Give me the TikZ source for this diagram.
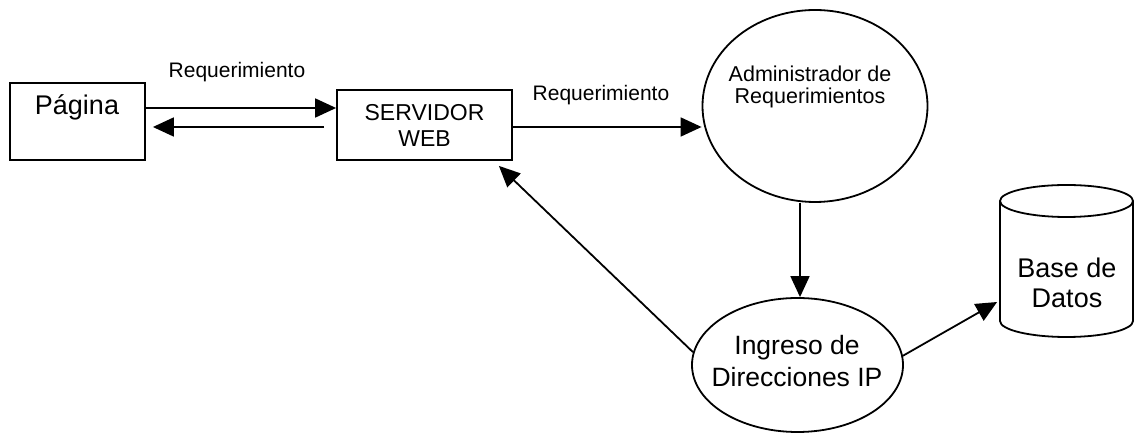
\documentclass[tikz,border=0pt]{standalone}
\usepackage{fontspec}
\setmainfont{Liberation Sans}
\usetikzlibrary{arrows.meta,shapes.geometric}
\begin{document}
\begin{tikzpicture}[x=1pt,y=1pt,
  line width=1.8pt,
  arr/.style={-{Triangle[length=21pt,width=19pt]}},
  boxnode/.style={draw, rectangle, inner sep=0pt},
  ellnode/.style={draw, ellipse, inner sep=0pt},
  txt/.style={align=center, inner sep=0pt}]
\useasboundingbox (0,0) rectangle (1141,433);
% boxes
\node[boxnode, minimum width=135, minimum height=77] (pagina) at (77.5,311.5) {};
\node[txt, font=\fontsize{27}{30}\selectfont] (paginatxt) at (77,326) {Página};
\node[boxnode, minimum width=175, minimum height=70, font=\fontsize{23}{26}\selectfont, align=center] (servidor) at (424.5,308) {SERVIDOR\\WEB};
% ellipses
\node[ellnode, minimum width=225, minimum height=192] (admin) at (815,327) {};
\node[txt, font=\fontsize{21.5}{22}\selectfont] (admintxt) at (810,346) {Administrador de\\Requerimientos};
\node[ellnode, minimum width=211, minimum height=134] (ingreso) at (797.5,68) {};
\node[txt, font=\fontsize{26.5}{32}\selectfont] (ingresotxt) at (797,72) {Ingreso de\\Direcciones IP};
% database cylinder
\draw (1000,232) -- (1000,112) arc[start angle=180, end angle=360, x radius=66.5, y radius=16] -- (1133,232);
\draw (1066.5,232) ellipse[x radius=66.5, y radius=16];
\node[inner sep=0pt, minimum width=133, minimum height=152] (bd) at (1066.5,172) {};
\node[txt, font=\fontsize{27}{30}\selectfont] (bdtxt) at (1067,150) {Base de\\Datos};
% labels
\node[txt, font=\fontsize{21}{22}\selectfont] (req1) at (237,361) {Requerimiento};
\node[txt, font=\fontsize{21}{22}\selectfont] (req2) at (601,338) {Requerimiento};
% connectors
\draw[arr] ([yshift=13.5]pagina.east) -- ([yshift=17]servidor.west);
\draw[arr] ([xshift=-12,yshift=-2]servidor.west) -- ([xshift=7,yshift=-5.5]pagina.east);
\draw[arr] ([yshift=-2]servidor.east) -- ([yshift=-2]servidor.east -| admin.west);
\draw[arr] ([xshift=-15]admin.south) -- ([xshift=2.5]ingreso.north);
\draw[arr] (ingreso.173) -- ([xshift=-14,yshift=-5]servidor.south east);
\draw[arr] (ingreso.5) -- ([yshift=-41,xshift=-2]bd.west);
\end{tikzpicture}
\end{document}
